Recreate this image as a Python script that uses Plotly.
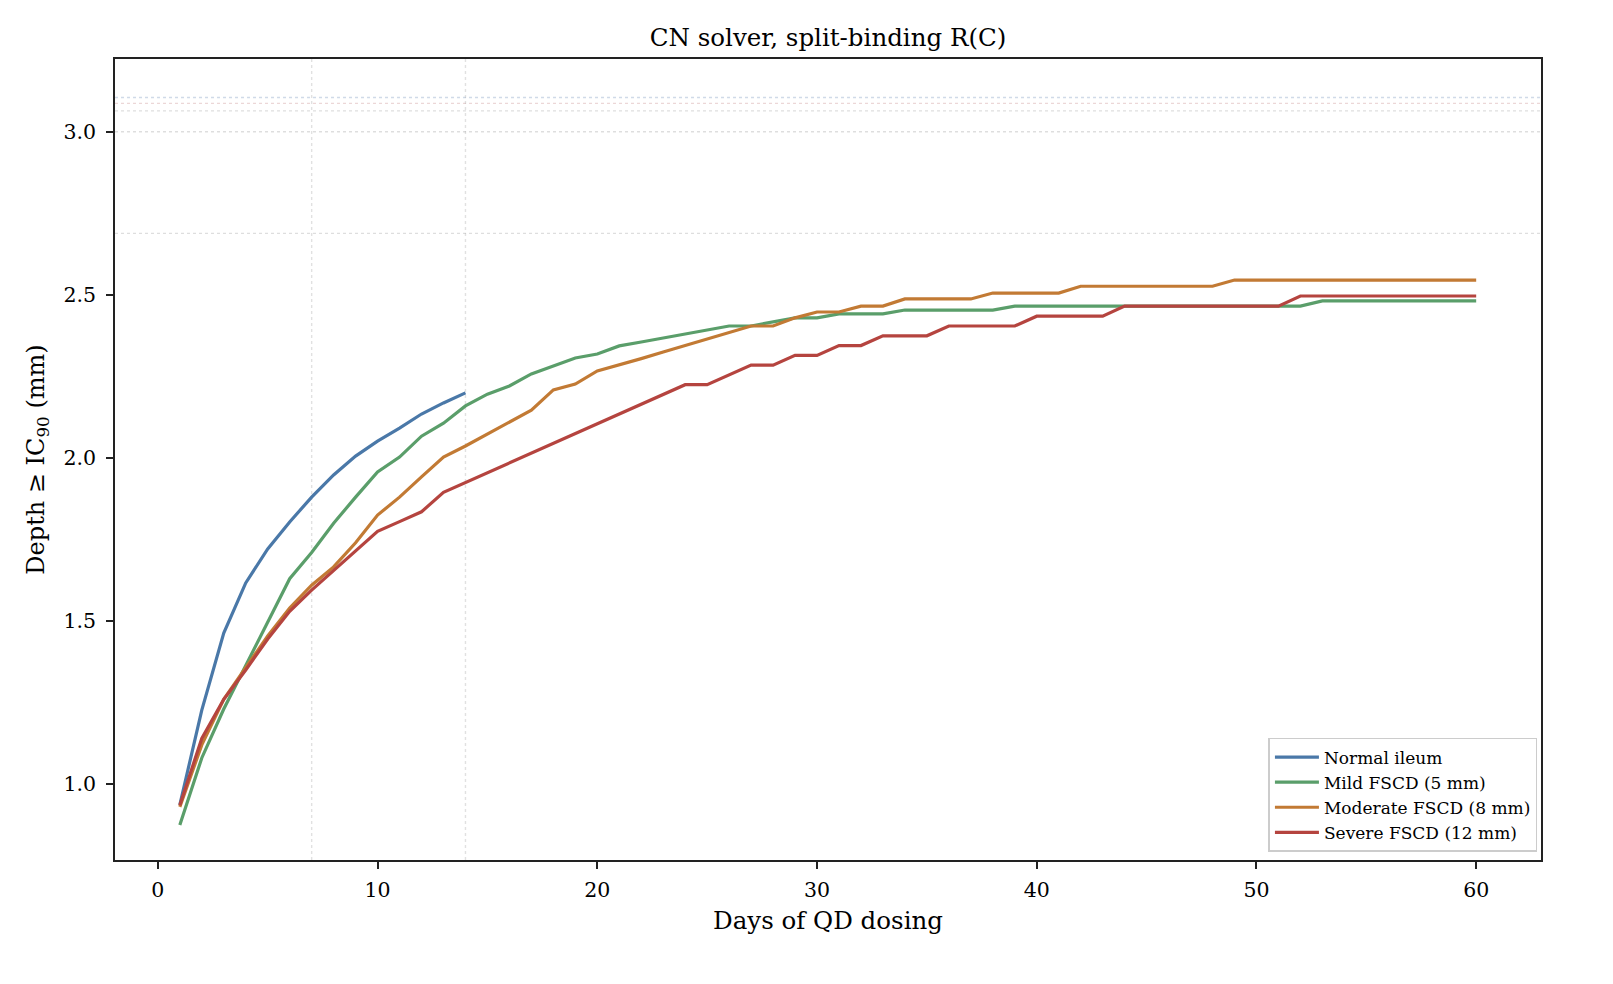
import plotly.graph_objects as go

days_normal = list(range(1, 15))
normal = [0.936, 1.227, 1.463, 1.617, 1.721, 1.804, 1.880, 1.948, 2.006, 2.052,
          2.092, 2.135, 2.169, 2.200]

days = list(range(1, 61))
mild = [0.874, 1.080, 1.230, 1.365, 1.500, 1.630, 1.710, 1.800, 1.880, 1.957,
        2.003, 2.067, 2.107, 2.160, 2.196, 2.221, 2.258, 2.282, 2.307, 2.319,
        2.344, 2.356, 2.368, 2.380, 2.393, 2.405, 2.405, 2.417, 2.430, 2.430,
        2.442, 2.442, 2.442, 2.454, 2.454, 2.454, 2.454, 2.454, 2.466, 2.466,
        2.466, 2.466, 2.466, 2.466, 2.466, 2.466, 2.466, 2.466, 2.466, 2.466,
        2.466, 2.466, 2.482, 2.482, 2.482, 2.482, 2.482, 2.482, 2.482, 2.482]
moderate = [0.930, 1.120, 1.260, 1.356, 1.454, 1.540, 1.610, 1.666, 1.740, 1.825,
            1.880, 1.942, 2.003, 2.037, 2.074, 2.110, 2.147, 2.209, 2.227, 2.267,
            2.285, 2.305, 2.325, 2.345, 2.365, 2.385, 2.405, 2.405, 2.430, 2.448,
            2.448, 2.466, 2.466, 2.488, 2.488, 2.488, 2.488, 2.506, 2.506, 2.506,
            2.506, 2.527, 2.527, 2.527, 2.527, 2.527, 2.527, 2.527, 2.546, 2.546,
            2.546, 2.546, 2.546, 2.546, 2.546, 2.546, 2.546, 2.546, 2.546, 2.546]
severe = [0.935, 1.140, 1.260, 1.350, 1.445, 1.530, 1.595, 1.655, 1.715, 1.775,
          1.805, 1.835, 1.895, 1.925, 1.955, 1.985, 2.015, 2.045, 2.075, 2.105,
          2.135, 2.165, 2.195, 2.225, 2.225, 2.255, 2.285, 2.285, 2.315, 2.315,
          2.345, 2.345, 2.375, 2.375, 2.375, 2.405, 2.405, 2.405, 2.405, 2.435,
          2.435, 2.435, 2.435, 2.466, 2.466, 2.466, 2.466, 2.466, 2.466, 2.466,
          2.466, 2.497, 2.497, 2.497, 2.497, 2.497, 2.497, 2.497, 2.497, 2.497]

ref_depths = [3.106, 3.088, 3.065, 3.001, 2.689]
ref_colors = ["rgba(120,150,190,0.35)", "rgba(200,140,140,0.35)",
              "rgba(160,160,160,0.35)", "rgba(160,160,160,0.35)",
              "rgba(160,160,160,0.35)"]
ref_days = [7, 14]

series = [
    ("Normal ileum", days_normal, normal, "#4a78a8"),
    ("Mild FSCD (5 mm)", days, mild, "#5a9e6a"),
    ("Moderate FSCD (8 mm)", days, moderate, "#c27a34"),
    ("Severe FSCD (12 mm)", days, severe, "#b5443f"),
]

fig = go.Figure()
for name, x, y, c in series:
    fig.add_trace(go.Scatter(x=x, y=y, mode="lines", name=name,
                             line=dict(color=c, width=3.2)))

for yv, c in zip(ref_depths, ref_colors):
    fig.add_hline(y=yv, line=dict(color=c, width=1.4, dash="dot"), layer="below")
for xv in ref_days:
    fig.add_vline(x=xv, line=dict(color="rgba(170,170,170,0.35)", width=1.4, dash="dot"),
                  layer="below")

font = "DejaVu Serif"
W, H = 1597, 956
L, R, T, B = 107, 64, 51, 104
fig.update_layout(
    width=W, height=H,
    margin=dict(l=L, r=R, t=T, b=B),
    paper_bgcolor="white", plot_bgcolor="white",
    font=dict(family=font, color="black", size=20),
    title=dict(text="CN solver, split-binding R(C)", x=(L + (W - R)) / 2 / W,
               xanchor="center", y=1 - 29 / H, yanchor="middle",
               font=dict(size=24.5, family=font)),
    showlegend=True,
    legend=dict(x=0.9975, y=0.01, xanchor="right", yanchor="bottom",
                bgcolor="rgba(255,255,255,0.85)", bordercolor="#cccccc", borderwidth=1.5,
                font=dict(size=17, family=font), tracegroupgap=0, itemwidth=44),
)
fig.update_xaxes(range=[-1.95, 62.95], tickvals=[0, 10, 20, 30, 40, 50, 60],
                 showgrid=False, zeroline=False, showline=True, linecolor="#222",
                 linewidth=1.6, mirror=True, ticks="outside", ticklen=7, tickwidth=1.6,
                 tickcolor="#222", tickfont=dict(size=20.5), ticklabelstandoff=4,
                 title=dict(text="Days of QD dosing", font=dict(size=24.5), standoff=10))
fig.update_yaxes(range=[0.767, 3.224], tickvals=[1.0, 1.5, 2.0, 2.5, 3.0],
                 tickformat=".1f",
                 showgrid=False, zeroline=False, showline=True, linecolor="#222",
                 linewidth=1.6, mirror=True, ticks="outside", ticklen=7, tickwidth=1.6,
                 tickcolor="#222", tickfont=dict(size=20.5), ticklabelstandoff=6,
                 title=dict(text="Depth ≥ IC<sub>90</sub> (mm)", font=dict(size=24),
                            standoff=12))

fig.write_html("out.html")
